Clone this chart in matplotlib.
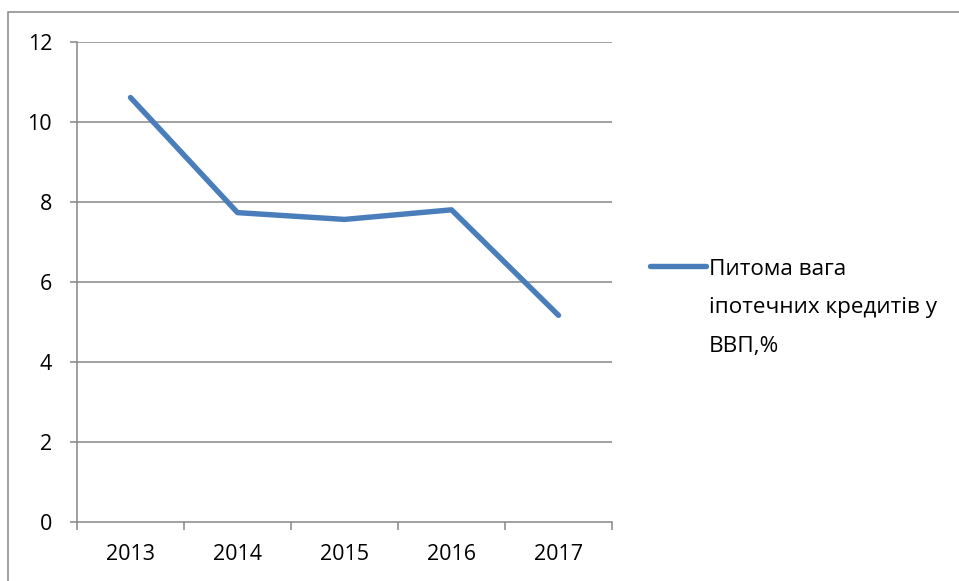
import matplotlib
matplotlib.use("Agg")
import matplotlib.pyplot as plt
from matplotlib.lines import Line2D
from matplotlib.patches import Rectangle

years = ["2013", "2014", "2015", "2016", "2017"]
share = [10.61, 7.73, 7.56, 7.80, 5.16]
series_label = ["Питома вага", "іпотечних кредитів у", "ВВП,%"]
y_ticks = [0, 2, 4, 6, 8, 10, 12]

plt.rcParams["font.family"] = ["Open Sans", "DejaVu Sans"]

W, H = 959, 581
fig = plt.figure(figsize=(W / 100, H / 100), dpi=100)
ax = fig.add_axes([77 / W, 1 - 521.5 / H, 535 / W, 479.5 / H])

grid_c = "#868686"
line_c = "#4A7EBB"
fs = 15.5

x = list(range(len(years)))
ax.plot(x, share, color=line_c, lw=3.9, solid_capstyle="round",
        solid_joinstyle="round", zorder=3)

ax.set_xlim(-0.5, len(years) - 0.5)
ax.set_ylim(0, 12)
ax.set_yticks(y_ticks)
ax.set_yticklabels([str(v) for v in y_ticks])
for v in y_ticks[1:]:
    ax.axhline(v, color=grid_c, lw=1.1, zorder=1)

# category labels centred, tick marks between categories
ax.set_xticks([i - 0.5 for i in range(len(years) + 1)])
ax.set_xticklabels([])
ax.set_xticks(x, minor=True)
ax.set_xticklabels(years, minor=True)
ax.tick_params(axis="x", which="major", direction="out", length=6,
               width=1.1, color=grid_c)
ax.tick_params(axis="x", which="minor", length=0, pad=16.5, labelsize=fs)
ax.tick_params(axis="y", direction="out", length=5, width=1.1,
               color=grid_c, pad=13, labelsize=fs)

for s in ["top", "right"]:
    ax.spines[s].set_visible(False)
for s in ["left", "bottom"]:
    ax.spines[s].set_color(grid_c)
    ax.spines[s].set_linewidth(1.1)

# legend entry
fig.add_artist(Line2D([650 / W, 706 / W], [1 - 266 / H, 1 - 266 / H],
                      transform=fig.transFigure, color=line_c, lw=3.9,
                      solid_capstyle="round"))
for i, line in enumerate(series_label):
    fig.text(709 / W, 1 - (275 + 38.5 * i) / H, line, fontsize=16.2,
             va="baseline", ha="left", transform=fig.transFigure)

# outer chart border
fig.add_artist(Rectangle((8 / W, -0.05), 1.0, 1 - 12.5 / H + 0.05,
                         transform=fig.transFigure, fill=False,
                         edgecolor=grid_c, lw=1.1))

fig.savefig("out.png", dpi=100)
